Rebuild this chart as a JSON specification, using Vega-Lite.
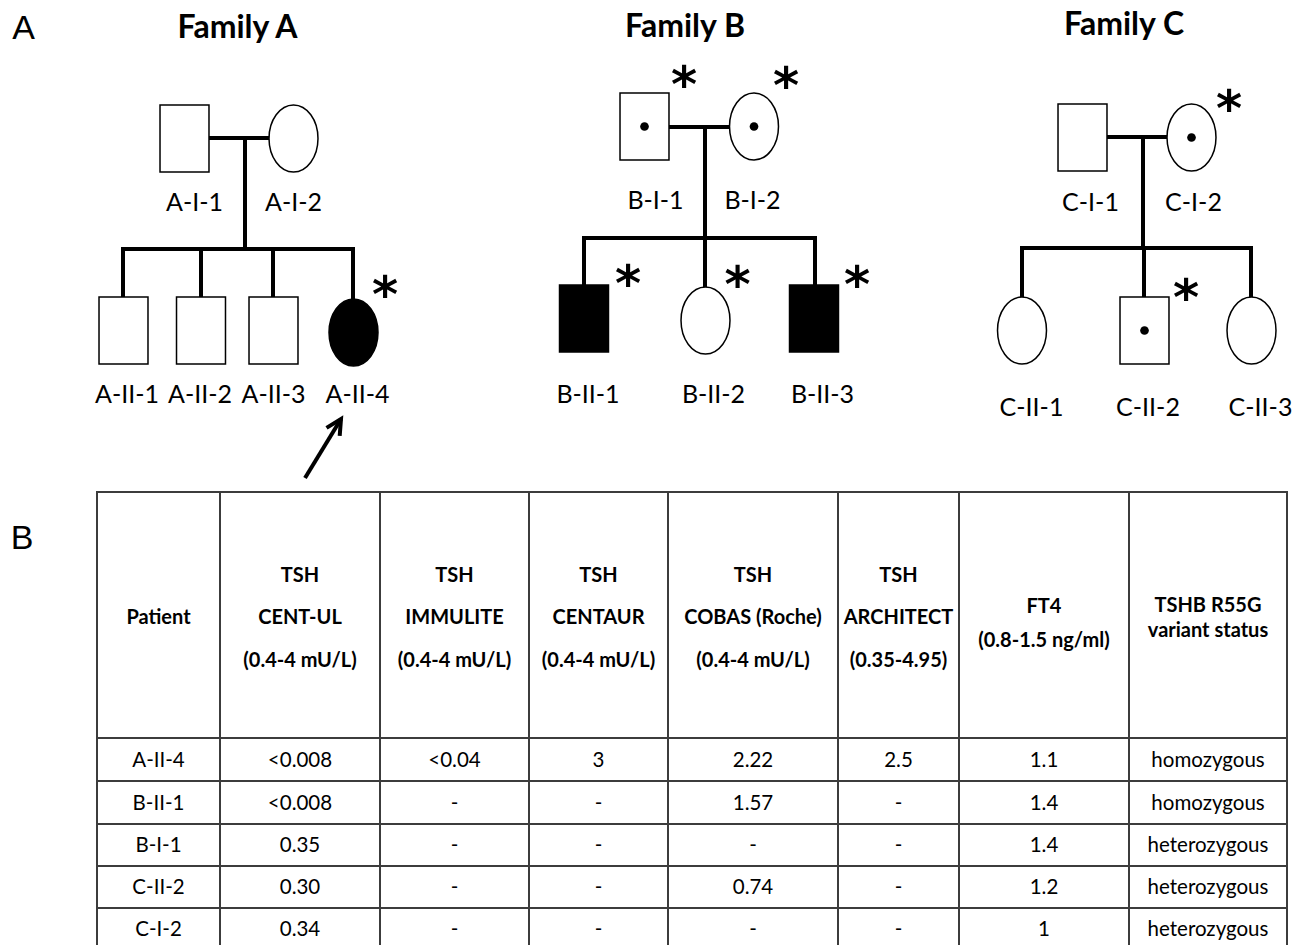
{
  "$schema": "https://vega.github.io/schema/vega-lite/v6.json",
  "width": 1303,
  "height": 945,
  "autosize": {"type": "fit", "contains": "padding"},
  "padding": 0,
  "background": "white",
  "config": {"view": {"stroke": null}},
  "datasets": {
    "people": [
      {"id": "A-I-1", "family": "A", "sex": "male", "status": "unaffected", "carrier": false, "x": 184.5, "y": 138.5, "lx": 194.5, "ly": 203, "sx": null, "sy": null},
      {"id": "A-I-2", "family": "A", "sex": "female", "status": "unaffected", "carrier": false, "x": 293.5, "y": 138.5, "lx": 293.5, "ly": 203, "sx": null, "sy": null},
      {"id": "A-II-1", "family": "A", "sex": "male", "status": "unaffected", "carrier": false, "x": 123.5, "y": 330.5, "lx": 127, "ly": 395, "sx": null, "sy": null},
      {"id": "A-II-2", "family": "A", "sex": "male", "status": "unaffected", "carrier": false, "x": 201, "y": 330.5, "lx": 200, "ly": 395, "sx": null, "sy": null},
      {"id": "A-II-3", "family": "A", "sex": "male", "status": "unaffected", "carrier": false, "x": 273.5, "y": 330.5, "lx": 273.5, "ly": 395, "sx": null, "sy": null},
      {"id": "A-II-4", "family": "A", "sex": "female", "status": "affected", "carrier": false, "x": 353.5, "y": 332.5, "lx": 357.5, "ly": 395, "sx": 385, "sy": 285},
      {"id": "B-I-1", "family": "B", "sex": "male", "status": "unaffected", "carrier": true, "x": 644.5, "y": 126.5, "lx": 655.5, "ly": 201, "sx": 684, "sy": 75},
      {"id": "B-I-2", "family": "B", "sex": "female", "status": "unaffected", "carrier": true, "x": 754, "y": 126.5, "lx": 752.5, "ly": 201, "sx": 786, "sy": 76},
      {"id": "B-II-1", "family": "B", "sex": "male", "status": "affected", "carrier": false, "x": 584, "y": 318.5, "lx": 588, "ly": 395, "sx": 628, "sy": 274},
      {"id": "B-II-2", "family": "B", "sex": "female", "status": "unaffected", "carrier": false, "x": 705.5, "y": 320.5, "lx": 713.5, "ly": 395, "sx": 737.5, "sy": 275},
      {"id": "B-II-3", "family": "B", "sex": "male", "status": "affected", "carrier": false, "x": 814, "y": 318.5, "lx": 822.5, "ly": 395, "sx": 857, "sy": 275},
      {"id": "C-I-1", "family": "C", "sex": "male", "status": "unaffected", "carrier": false, "x": 1082.5, "y": 137.5, "lx": 1090.5, "ly": 203, "sx": null, "sy": null},
      {"id": "C-I-2", "family": "C", "sex": "female", "status": "unaffected", "carrier": true, "x": 1191.5, "y": 137.5, "lx": 1193.5, "ly": 203, "sx": 1229, "sy": 99},
      {"id": "C-II-1", "family": "C", "sex": "female", "status": "unaffected", "carrier": false, "x": 1022, "y": 330.5, "lx": 1031.5, "ly": 408, "sx": null, "sy": null},
      {"id": "C-II-2", "family": "C", "sex": "male", "status": "unaffected", "carrier": true, "x": 1144.5, "y": 330.5, "lx": 1148, "ly": 408, "sx": 1186, "sy": 288},
      {"id": "C-II-3", "family": "C", "sex": "female", "status": "unaffected", "carrier": false, "x": 1251.5, "y": 330.5, "lx": 1260.5, "ly": 408, "sx": null, "sy": null}
    ],
    "links": [
      {"family": "A", "link": "mating", "x": 209, "y": 138, "x2": 269, "y2": 138},
      {"family": "A", "link": "descent", "x": 245, "y": 138, "x2": 245, "y2": 249},
      {"family": "A", "link": "sibship", "x": 123, "y": 249, "x2": 353, "y2": 249},
      {"family": "A", "link": "child", "x": 123, "y": 249, "x2": 123, "y2": 297},
      {"family": "A", "link": "child", "x": 201, "y": 249, "x2": 201, "y2": 297},
      {"family": "A", "link": "child", "x": 273, "y": 249, "x2": 273, "y2": 297},
      {"family": "A", "link": "child", "x": 353, "y": 249, "x2": 353, "y2": 299},
      {"family": "B", "link": "mating", "x": 669, "y": 127, "x2": 730, "y2": 127},
      {"family": "B", "link": "descent", "x": 705, "y": 127, "x2": 705, "y2": 238},
      {"family": "B", "link": "sibship", "x": 584, "y": 238, "x2": 815, "y2": 238},
      {"family": "B", "link": "child", "x": 584, "y": 238, "x2": 584, "y2": 285},
      {"family": "B", "link": "child", "x": 705, "y": 238, "x2": 705, "y2": 287},
      {"family": "B", "link": "child", "x": 815, "y": 238, "x2": 815, "y2": 285},
      {"family": "C", "link": "mating", "x": 1107, "y": 137, "x2": 1167, "y2": 137},
      {"family": "C", "link": "descent", "x": 1143, "y": 137, "x2": 1143, "y2": 248},
      {"family": "C", "link": "sibship", "x": 1022, "y": 248, "x2": 1251, "y2": 248},
      {"family": "C", "link": "child", "x": 1022, "y": 248, "x2": 1022, "y2": 297},
      {"family": "C", "link": "child", "x": 1144, "y": 248, "x2": 1144, "y2": 297},
      {"family": "C", "link": "child", "x": 1251, "y": 248, "x2": 1251, "y2": 297}
    ],
    "arrows": [
      {"target": "A-II-4", "x": 305, "y": 478, "x2": 341, "y2": 419}
    ],
    "titles": [
      {"kind": "panel", "text": "A", "x": 23.5, "y": 29},
      {"kind": "panel", "text": "B", "x": 22, "y": 539},
      {"kind": "family", "text": "Family A", "x": 237.5, "y": 28},
      {"kind": "family", "text": "Family B", "x": 685, "y": 26.5},
      {"kind": "family", "text": "Family C", "x": 1124, "y": 25}
    ],
    "columns": [
      {"col": "patient", "left": 97, "right": 220, "cx": 158.5},
      {"col": "centul", "left": 220, "right": 380, "cx": 300},
      {"col": "immulite", "left": 380, "right": 529, "cx": 454.5},
      {"col": "centaur", "left": 529, "right": 668, "cx": 598.5},
      {"col": "cobas", "left": 668, "right": 838, "cx": 753},
      {"col": "architect", "left": 838, "right": 959, "cx": 898.5},
      {"col": "ft4", "left": 959, "right": 1129, "cx": 1044},
      {"col": "variant", "left": 1129, "right": 1287, "cx": 1208}
    ],
    "rows": [
      {"row": 1, "top": 738, "bottom": 781, "cy": 761},
      {"row": 2, "top": 781, "bottom": 824, "cy": 804},
      {"row": 3, "top": 824, "bottom": 866, "cy": 846},
      {"row": 4, "top": 866, "bottom": 908, "cy": 888},
      {"row": 5, "top": 908, "bottom": 952, "cy": 930}
    ],
    "headerLines": [
      {"col": "patient", "text": "Patient", "y": 618},
      {"col": "centul", "text": "TSH", "y": 576},
      {"col": "centul", "text": "CENT-UL", "y": 618},
      {"col": "centul", "text": "(0.4-4 mU/L)", "y": 661},
      {"col": "immulite", "text": "TSH", "y": 576},
      {"col": "immulite", "text": "IMMULITE", "y": 618},
      {"col": "immulite", "text": "(0.4-4 mU/L)", "y": 661},
      {"col": "centaur", "text": "TSH", "y": 576},
      {"col": "centaur", "text": "CENTAUR", "y": 618},
      {"col": "centaur", "text": "(0.4-4 mU/L)", "y": 661},
      {"col": "cobas", "text": "TSH", "y": 576},
      {"col": "cobas", "text": "COBAS (Roche)", "y": 618},
      {"col": "cobas", "text": "(0.4-4 mU/L)", "y": 661},
      {"col": "architect", "text": "TSH", "y": 576},
      {"col": "architect", "text": "ARCHITECT", "y": 618},
      {"col": "architect", "text": "(0.35-4.95)", "y": 661},
      {"col": "ft4", "text": "FT4", "y": 607},
      {"col": "ft4", "text": "(0.8-1.5 ng/ml)", "y": 641},
      {"col": "variant", "text": "TSHB R55G", "y": 606},
      {"col": "variant", "text": "variant status", "y": 631}
    ],
    "patients": [
      {"row": 1, "patient": "A-II-4", "centul": "<0.008", "immulite": "<0.04", "centaur": "3", "cobas": "2.22", "architect": "2.5", "ft4": "1.1", "variant": "homozygous"},
      {"row": 2, "patient": "B-II-1", "centul": "<0.008", "immulite": "-", "centaur": "-", "cobas": "1.57", "architect": "-", "ft4": "1.4", "variant": "homozygous"},
      {"row": 3, "patient": "B-I-1", "centul": "0.35", "immulite": "-", "centaur": "-", "cobas": "-", "architect": "-", "ft4": "1.4", "variant": "heterozygous"},
      {"row": 4, "patient": "C-II-2", "centul": "0.30", "immulite": "-", "centaur": "-", "cobas": "0.74", "architect": "-", "ft4": "1.2", "variant": "heterozygous"},
      {"row": 5, "patient": "C-I-2", "centul": "0.34", "immulite": "-", "centaur": "-", "cobas": "-", "architect": "-", "ft4": "1", "variant": "heterozygous"}
    ]
  },
  "layer": [
    {
      "data": {"name": "columns"},
      "mark": {"type": "rect", "filled": false, "stroke": "#3c3c3c", "strokeWidth": 2},
      "encoding": {
        "x": {"field": "left", "type": "quantitative", "scale": {"domain": [0, 1303], "nice": false, "zero": false}, "axis": null},
        "x2": {"field": "right"},
        "y": {"datum": 492, "type": "quantitative", "scale": {"domain": [0, 945], "nice": false, "zero": false, "reverse": true}, "axis": null},
        "y2": {"datum": 738}
      }
    },
    {
      "data": {"name": "patients"},
      "transform": [
        {"fold": ["patient", "centul", "immulite", "centaur", "cobas", "architect", "ft4", "variant"], "as": ["col", "value"]},
        {"lookup": "col", "from": {"data": {"name": "columns"}, "key": "col", "fields": ["left", "right", "cx"]}},
        {"lookup": "row", "from": {"data": {"name": "rows"}, "key": "row", "fields": ["top", "bottom", "cy"]}}
      ],
      "layer": [
        {
          "mark": {"type": "rect", "filled": false, "stroke": "#3c3c3c", "strokeWidth": 2, "clip": true},
          "encoding": {
            "x": {"field": "left", "type": "quantitative", "scale": {"domain": [0, 1303], "nice": false, "zero": false}, "axis": null},
            "x2": {"field": "right"},
            "y": {"field": "top", "type": "quantitative", "scale": {"domain": [0, 945], "nice": false, "zero": false, "reverse": true}, "axis": null},
            "y2": {"field": "bottom"}
          }
        },
        {
          "mark": {"type": "text", "font": "Lato", "fontSize": 20.5, "align": "center", "baseline": "middle", "color": "black"},
          "encoding": {
            "x": {"field": "cx", "type": "quantitative", "scale": {"domain": [0, 1303], "nice": false, "zero": false}, "axis": null},
            "y": {"field": "cy", "type": "quantitative", "scale": {"domain": [0, 945], "nice": false, "zero": false, "reverse": true}, "axis": null},
            "text": {"field": "value"}
          }
        }
      ]
    },
    {
      "data": {"name": "headerLines"},
      "transform": [
        {"lookup": "col", "from": {"data": {"name": "columns"}, "key": "col", "fields": ["cx"]}}
      ],
      "mark": {"type": "text", "font": "Lato", "fontWeight": "bold", "fontSize": 20, "align": "center", "baseline": "middle", "color": "black"},
      "encoding": {
        "x": {"field": "cx", "type": "quantitative", "scale": {"domain": [0, 1303], "nice": false, "zero": false}, "axis": null},
        "y": {"field": "y", "type": "quantitative", "scale": {"domain": [0, 945], "nice": false, "zero": false, "reverse": true}, "axis": null},
        "text": {"field": "text"}
      }
    },
    {
      "data": {"name": "links"},
      "mark": {"type": "rule", "stroke": "black", "strokeWidth": 4, "strokeCap": "square"},
      "encoding": {
        "x": {"field": "x", "type": "quantitative", "scale": {"domain": [0, 1303], "nice": false, "zero": false}, "axis": null},
        "y": {"field": "y", "type": "quantitative", "scale": {"domain": [0, 945], "nice": false, "zero": false, "reverse": true}, "axis": null},
        "x2": {"field": "x2"},
        "y2": {"field": "y2"}
      }
    },
    {
      "data": {"name": "people"},
      "mark": {"type": "point", "filled": true, "stroke": "black", "strokeWidth": 1.5, "size": 4489, "opacity": 1},
      "encoding": {
        "x": {"field": "x", "type": "quantitative", "scale": {"domain": [0, 1303], "nice": false, "zero": false}, "axis": null},
        "y": {"field": "y", "type": "quantitative", "scale": {"domain": [0, 945], "nice": false, "zero": false, "reverse": true}, "axis": null},
        "shape": {"field": "sex", "type": "nominal", "legend": null, "scale": {"domain": ["male", "female"], "range": ["M -0.731,-1 L 0.731,-1 L 0.731,1 L -0.731,1 Z", "M 0,-1 C 0.4037,-1 0.731,-0.5523 0.731,0 C 0.731,0.5523 0.4037,1 0,1 C -0.4037,1 -0.731,0.5523 -0.731,0 C -0.731,-0.5523 -0.4037,-1 0,-1 Z"]}},
        "fill": {"field": "status", "type": "nominal", "legend": null, "scale": {"domain": ["affected", "unaffected"], "range": ["black", "white"]}}
      }
    },
    {
      "data": {"name": "people"},
      "transform": [{"filter": "datum.carrier"}],
      "mark": {"type": "point", "shape": "circle", "filled": true, "color": "black", "size": 75, "opacity": 1},
      "encoding": {
        "x": {"field": "x", "type": "quantitative", "scale": {"domain": [0, 1303], "nice": false, "zero": false}, "axis": null},
        "y": {"field": "y", "type": "quantitative", "scale": {"domain": [0, 945], "nice": false, "zero": false, "reverse": true}, "axis": null}
      }
    },
    {
      "data": {"name": "people"},
      "transform": [{"filter": "datum.sx != null"}],
      "mark": {"type": "text", "text": "*", "font": "DejaVu Sans", "fontWeight": "bold", "fontSize": 50, "align": "center", "baseline": "middle", "dy": 12, "color": "black"},
      "encoding": {
        "x": {"field": "sx", "type": "quantitative", "scale": {"domain": [0, 1303], "nice": false, "zero": false}, "axis": null},
        "y": {"field": "sy", "type": "quantitative", "scale": {"domain": [0, 945], "nice": false, "zero": false, "reverse": true}, "axis": null}
      }
    },
    {
      "data": {"name": "people"},
      "mark": {"type": "text", "font": "Lato", "fontSize": 25, "align": "center", "baseline": "middle", "color": "black"},
      "encoding": {
        "x": {"field": "lx", "type": "quantitative", "scale": {"domain": [0, 1303], "nice": false, "zero": false}, "axis": null},
        "y": {"field": "ly", "type": "quantitative", "scale": {"domain": [0, 945], "nice": false, "zero": false, "reverse": true}, "axis": null},
        "text": {"field": "id"}
      }
    },
    {
      "data": {"name": "titles"},
      "transform": [{"filter": "datum.kind == 'family'"}],
      "mark": {"type": "text", "font": "Lato", "fontWeight": "bold", "fontSize": 32, "align": "center", "baseline": "middle", "color": "black"},
      "encoding": {
        "x": {"field": "x", "type": "quantitative", "scale": {"domain": [0, 1303], "nice": false, "zero": false}, "axis": null},
        "y": {"field": "y", "type": "quantitative", "scale": {"domain": [0, 945], "nice": false, "zero": false, "reverse": true}, "axis": null},
        "text": {"field": "text"}
      }
    },
    {
      "data": {"name": "titles"},
      "transform": [{"filter": "datum.kind == 'panel'"}],
      "mark": {"type": "text", "font": "Liberation Sans", "fontSize": 34, "align": "center", "baseline": "middle", "color": "black"},
      "encoding": {
        "x": {"field": "x", "type": "quantitative", "scale": {"domain": [0, 1303], "nice": false, "zero": false}, "axis": null},
        "y": {"field": "y", "type": "quantitative", "scale": {"domain": [0, 945], "nice": false, "zero": false, "reverse": true}, "axis": null},
        "text": {"field": "text"}
      }
    },
    {
      "data": {"name": "arrows"},
      "mark": {"type": "rule", "stroke": "black", "strokeWidth": 4, "strokeCap": "butt"},
      "encoding": {
        "x": {"field": "x", "type": "quantitative", "scale": {"domain": [0, 1303], "nice": false, "zero": false}, "axis": null},
        "y": {"field": "y", "type": "quantitative", "scale": {"domain": [0, 945], "nice": false, "zero": false, "reverse": true}, "axis": null},
        "x2": {"field": "x2"},
        "y2": {"field": "y2"}
      }
    },
    {
      "data": {"name": "arrows"},
      "mark": {"type": "point", "shape": "M -0.454,0.891 L 0,0 L 0.454,0.891", "filled": false, "stroke": "black", "strokeWidth": 4, "strokeJoin": "miter", "size": 1156, "angle": 31.4, "opacity": 1},
      "encoding": {
        "x": {"field": "x2", "type": "quantitative", "scale": {"domain": [0, 1303], "nice": false, "zero": false}, "axis": null},
        "y": {"field": "y2", "type": "quantitative", "scale": {"domain": [0, 945], "nice": false, "zero": false, "reverse": true}, "axis": null}
      }
    }
  ]
}
